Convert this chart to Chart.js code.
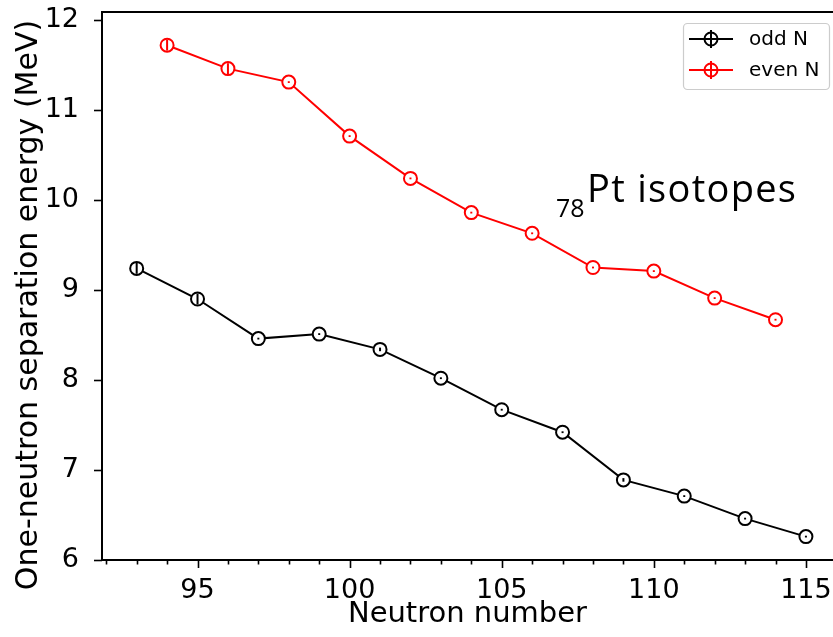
<!DOCTYPE html>
<html>
<head>
<meta charset="utf-8">
<script src="https://cdn.jsdelivr.net/npm/chart.js@4.4.0/dist/chart.umd.min.js"></script>
<style>
  html, body { margin: 0; padding: 0; background: #fff; }
  #wrap { width: 833px; height: 637px; }
</style>
</head>
<body>
<div id="wrap"><canvas id="chart" width="833" height="637"></canvas></div>
<script>
// neutron numbers and one-neutron separation energies (MeV)
const oddN = [93, 95, 97, 99, 101, 103, 105, 107, 109, 111, 113, 115];
const oddSn = [9.24, 8.90, 8.46, 8.51, 8.34, 8.02, 7.67, 7.42, 6.89, 6.71, 6.46, 6.26];
const oddErr = [0.06, 0.06, 0.01, 0.01, 0.02, 0.01, 0.01, 0.01, 0.02, 0.01, 0.01, 0.01];

const evenN = [94, 96, 98, 100, 102, 104, 106, 108, 110, 112, 114];
const evenSn = [11.72, 11.46, 11.31, 10.71, 10.24, 9.86, 9.63, 9.25, 9.21, 8.91, 8.67];
const evenErr = [0.06, 0.06, 0.01, 0.01, 0.01, 0.01, 0.01, 0.01, 0.01, 0.01, 0.01];

const seriesLabels = ['odd N', 'even N'];
const seriesColors = ['#000000', '#ff0000'];
const yTitle = 'One-neutron separation energy (MeV)';

const FONT = '"DejaVu Sans", sans-serif';

function toPoints(xs, ys, errs) {
  return xs.map((x, i) => ({ x: x, y: ys[i], err: errs[i] }));
}

// integer ticks only (no extra ticks at the axis limits)
function integerTicks(scale) {
  const ticks = [];
  for (let v = Math.ceil(scale.min); v <= Math.floor(scale.max); v++) {
    ticks.push({ value: v });
  }
  scale.ticks = ticks;
}

// error bars, drawn on top of the markers
const errorBars = {
  id: 'errorBars',
  afterDatasetsDraw(chart) {
    const ctx = chart.ctx;
    const yScale = chart.scales.y;
    chart.data.datasets.forEach((ds, i) => {
      const meta = chart.getDatasetMeta(i);
      ctx.save();
      ctx.strokeStyle = ds.borderColor;
      ctx.lineWidth = 2;
      meta.data.forEach((pt, j) => {
        const d = ds.data[j];
        ctx.beginPath();
        ctx.moveTo(pt.x, yScale.getPixelForValue(d.y - d.err));
        ctx.lineTo(pt.x, yScale.getPixelForValue(d.y + d.err));
        ctx.stroke();
      });
      ctx.restore();
    });
  }
};

// matplotlib-like frame, ticks, y title, legend and annotation
const frame = {
  id: 'frame',
  afterDraw(chart) {
    const ctx = chart.ctx;
    const a = chart.chartArea;
    const xs = chart.scales.x, ys = chart.scales.y;
    ctx.save();
    ctx.strokeStyle = '#000';
    ctx.lineWidth = 2;
    ctx.beginPath();
    ctx.moveTo(chart.width, a.top);
    ctx.lineTo(a.left, a.top);
    ctx.lineTo(a.left, a.bottom);
    ctx.lineTo(chart.width, a.bottom);
    ctx.stroke();

    ctx.lineWidth = 1.6;
    xs.ticks.forEach(t => {
      const px = Math.round(xs.getPixelForValue(t.value)) + 0.5;
      const len = t.value % 5 === 0 ? 8 : 4.5;
      ctx.beginPath();
      ctx.moveTo(px, a.bottom);
      ctx.lineTo(px, a.bottom + len);
      ctx.stroke();
    });
    ys.ticks.forEach(t => {
      const py = Math.round(ys.getPixelForValue(t.value)) + 0.5;
      ctx.beginPath();
      ctx.moveTo(a.left, py);
      ctx.lineTo(a.left - 8, py);
      ctx.stroke();
    });

    // y axis title
    ctx.save();
    ctx.translate(29, 305);
    ctx.rotate(-Math.PI / 2);
    ctx.fillStyle = '#000';
    ctx.font = '30px ' + FONT;
    ctx.textAlign = 'center';
    ctx.textBaseline = 'middle';
    ctx.fillText(yTitle, 0, 0);
    ctx.restore();

    // legend
    const bx = 683, by = 23, bw = 146, bh = 66;
    ctx.fillStyle = 'rgba(255,255,255,0.8)';
    ctx.strokeStyle = '#cccccc';
    ctx.lineWidth = 1.2;
    ctx.beginPath();
    ctx.roundRect(bx + 0.5, by + 0.5, bw, bh, 4);
    ctx.fill();
    ctx.stroke();
    chart.data.datasets.forEach((ds, i) => {
      const ly = 39 + i * 31;
      ctx.strokeStyle = ds.borderColor;
      ctx.lineWidth = 2;
      ctx.beginPath();
      ctx.moveTo(689, ly);
      ctx.lineTo(733, ly);
      ctx.stroke();
      ctx.beginPath();
      ctx.arc(711, ly, 6.5, 0, Math.PI * 2);
      ctx.stroke();
      ctx.beginPath();
      ctx.moveTo(711, ly - 9);
      ctx.lineTo(711, ly + 9);
      ctx.stroke();
      ctx.fillStyle = '#000';
      ctx.font = '20px ' + FONT;
      ctx.textBaseline = 'middle';
      ctx.textAlign = 'left';
      ctx.fillText(ds.label, 749, ly + 1);
    });

    // isotope annotation
    ctx.fillStyle = '#000';
    ctx.textBaseline = 'alphabetic';
    ctx.textAlign = 'left';
    ctx.font = '25px "Open Sans", sans-serif';
    ctx.fillText('78', 556, 217);
    ctx.font = '38px "Open Sans", sans-serif';
    ctx.letterSpacing = '1.3px';
    ctx.fillText('Pt isotopes', 587, 202);
    ctx.restore();
  }
};

const ctx = document.getElementById('chart').getContext('2d');
new Chart(ctx, {
  type: 'line',
  data: {
    datasets: [
      {
        label: seriesLabels[0],
        data: toPoints(oddN, oddSn, oddErr),
        borderColor: seriesColors[0],
        backgroundColor: '#ffffff',
        borderWidth: 2,
        pointRadius: 6.5,
        pointBorderWidth: 2,
        pointBackgroundColor: '#ffffff',
        tension: 0
      },
      {
        label: seriesLabels[1],
        data: toPoints(evenN, evenSn, evenErr),
        borderColor: seriesColors[1],
        backgroundColor: '#ffffff',
        borderWidth: 2,
        pointRadius: 6.5,
        pointBorderWidth: 2,
        pointBackgroundColor: '#ffffff',
        tension: 0
      }
    ]
  },
  options: {
    responsive: false,
    animation: false,
    events: [],
    layout: {
      autoPadding: false,
      padding: { top: 12, right: 0, left: 0, bottom: 0 }
    },
    plugins: {
      legend: { display: false },
      tooltip: { enabled: false }
    },
    scales: {
      x: {
        type: 'linear',
        min: 91.86,
        max: 115.89,
        afterBuildTicks: integerTicks,
        afterFit(scale) {
          scale.height = 77;
          scale.paddingLeft = 0;
          scale.paddingRight = 0;
        },
        // invisible tick marks only to offset the labels (real ticks drawn in frame plugin)
        grid: {
          display: true,
          drawOnChartArea: false,
          drawTicks: true,
          tickLength: 15,
          tickColor: 'rgba(0,0,0,0)'
        },
        border: { display: false },
        ticks: {
          autoSkip: false,
          maxRotation: 0,
          padding: 0,
          color: '#000',
          font: { family: FONT, size: 27 },
          callback: v => (v % 5 === 0 ? String(v) : '')
        },
        title: {
          display: true,
          text: 'Neutron number',
          color: '#000',
          font: { family: FONT, size: 29 },
          padding: { top: 0, bottom: 5 }
        }
      },
      y: {
        type: 'linear',
        min: 6,
        max: 12.089,
        afterBuildTicks: integerTicks,
        afterFit(scale) {
          scale.width = 102;
          scale.paddingTop = 0;
          scale.paddingBottom = 0;
        },
        grid: { display: false },
        border: { display: false },
        ticks: {
          autoSkip: false,
          padding: 15,
          color: '#000',
          font: { family: FONT, size: 27 },
          callback: v => String(v)
        }
      }
    }
  },
  plugins: [errorBars, frame]
});
</script>
</body>
</html>
